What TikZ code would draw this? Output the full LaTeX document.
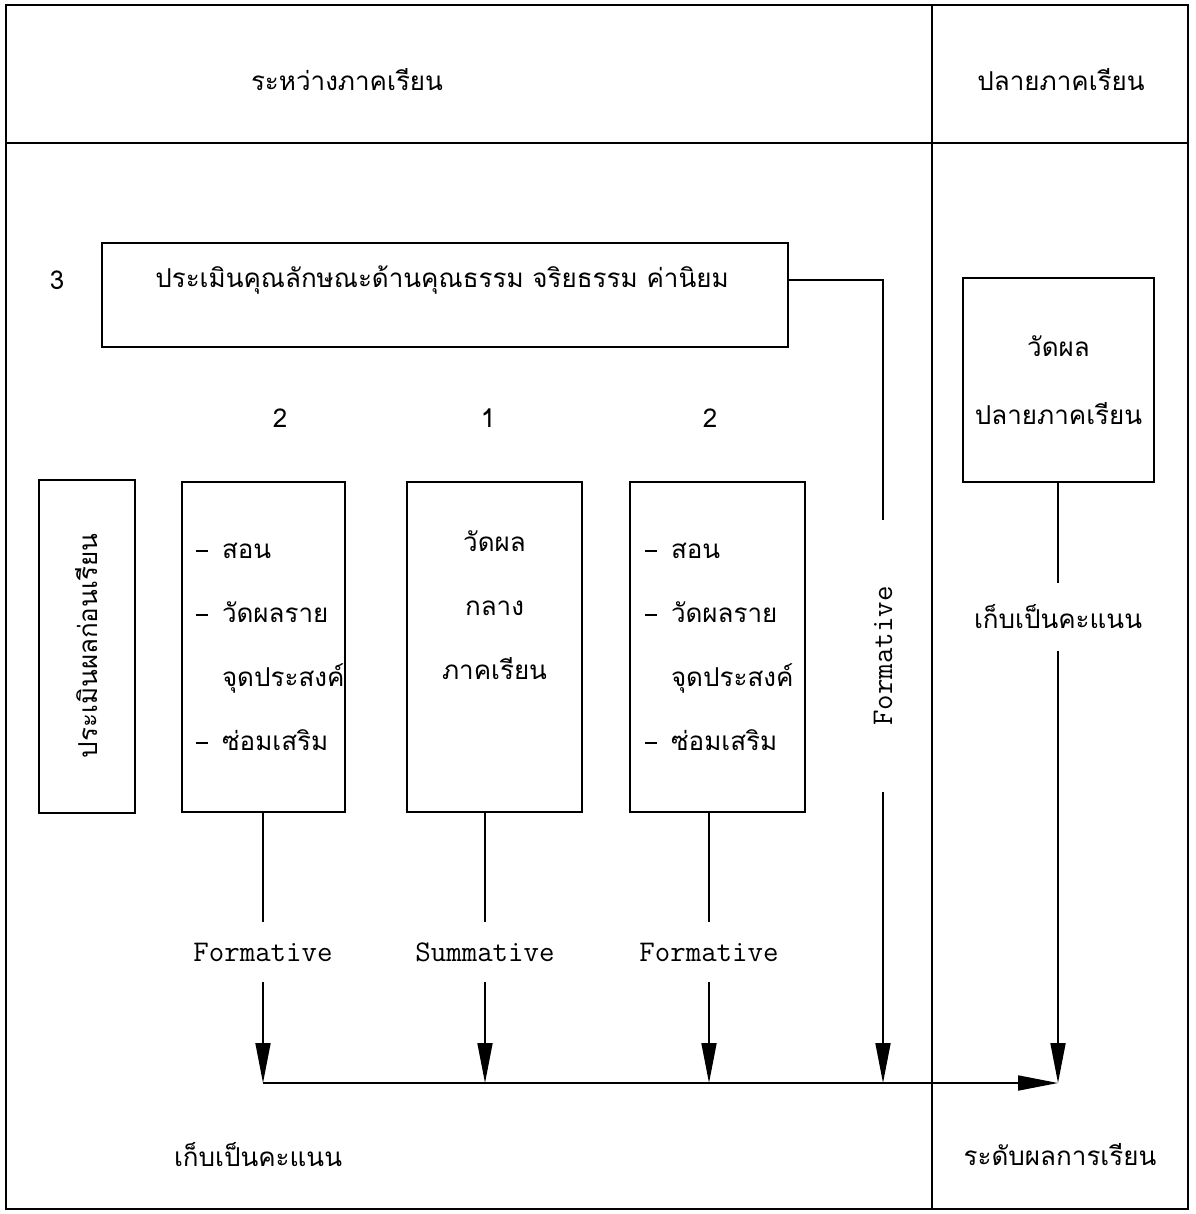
\documentclass[tikz,border=0pt]{standalone}
\usepackage{fontspec}
\newfontfamily\thaifont[Script=Thai]{Loma}
\usetikzlibrary{arrows.meta}

\tikzset{
  frame/.style={line width=1.3pt},
  box/.style={draw, line width=1pt, inner sep=0pt},
  thai/.style={font=\thaifont\fontsize{13}{16}\selectfont, inner sep=1pt},
  listbox/.style={box, align=left, font=\thaifont\fontsize{13}{32}\selectfont},
  midbox/.style={box, align=center, font=\thaifont\fontsize{13}{32}\selectfont},
  eng/.style={font=\ttfamily\fontsize{15}{18}\selectfont, inner sep=0pt, minimum height=30pt},
  link/.style={line width=0.9pt},
  flow/.style={link, -{Triangle[length=20pt,width=7.5pt]}},
}
\newcommand{\itemdash}{\makebox[13pt][l]{\rule[3.2pt]{6pt}{1.1pt}}}
\newcommand{\itemgap}{\makebox[13pt]{}}

\begin{document}
\begin{tikzpicture}[x=0.5pt,y=-0.5pt]
\useasboundingbox (0,0) rectangle (1195,1214);
% frame and columns
\draw[frame] (6,5) rectangle (1188,1209);
\draw[frame] (932,5) -- (932,1209);
\draw[frame] (6,143) -- (1188,143);
\node[thai] (hdrA) at (347,80) {ระหว่างภาคเรียน};
\node[thai] (hdrB) at (1061,80) {ปลายภาคเรียน};

% top box
\node[box, minimum width=343pt, minimum height=52pt] (T) at (445,295) {};
\node[thai] (Ttxt) at (442,280) {ประเมินคุณลักษณะด้านคุณธรรม จริยธรรม ค่านิยม};
\node[thai] (n3) at (57,280) {3};

% numbers
\node[thai] (n2a) at (280,418) {2};
\node[thai] (n1) at (488,418) {1};
\node[thai] (n2b) at (710,418) {2};

% boxes of the term
\node[box, minimum width=48pt, minimum height=166.5pt] (L) at (87,646) {};
\node[thai, rotate=90] (Ltxt) at (L.center) {ประเมินผลก่อนเรียน};
\node[listbox, text width=67.5pt, inner xsep=7pt, minimum height=165pt] (B2a) at (263.5,647)
  {\itemdash สอน\\ \itemdash วัดผลราย\\ \itemgap จุดประสงค์\\ \itemdash ซ่อมเสริม};
\node[midbox, minimum width=87.5pt, minimum height=165pt] (B1) at (494.5,647)
  {วัดผล\\ กลาง\\ ภาคเรียน\\ \strut};
\node[listbox, text width=72.5pt, inner xsep=7.5pt, minimum height=165pt] (B2b) at (717.5,647)
  {\itemdash สอน\\ \itemdash วัดผลราย\\ \itemgap จุดประสงค์\\ \itemdash ซ่อมเสริม};

% end of term
\node[box, align=center, font=\thaifont\fontsize{13}{34}\selectfont,
      minimum width=95.5pt, minimum height=102pt] (R) at (1058.5,380)
  {วัดผล\\ ปลายภาคเรียน};
\node[thai, minimum height=34pt] (K) at (1058,617) {เก็บเป็นคะแนน};

% labels on the lines
\node[eng] (F1) at (263,952) {Formative};
\node[eng] (S1) at (485,952) {Summative};
\node[eng] (F2) at (709,952) {Formative};
\node[eng, rotate=90, minimum width=136pt] (F3) at (883,656) {Formative};

\coordinate (j1) at (263,1083);
\coordinate (j2) at (485,1083);
\coordinate (j3) at (709,1083);
\coordinate (j4) at (883,1083);
\coordinate (j5) at (1058,1083);

% connectors
\draw[link] (B2a.south -| F1) -- (F1.north);
\draw[flow] (F1.south) -- (j1);
\draw[link] (B1.south -| S1) -- (S1.north);
\draw[flow] (S1.south) -- (j2);
\draw[link] (B2b.south -| F2) -- (F2.north);
\draw[flow] (F2.south) -- (j3);
\draw[link] (T.east |- Ttxt) -| (F3.east);
\draw[flow] (F3.west) -- (j4);
\draw[link] (R.south -| K) -- (K.north);
\draw[flow] (K.south) -- (j5);
\draw[flow] (j1) -- (j5);

% bottom row
\node[thai] (scoreA) at (258,1155) {เก็บเป็นคะแนน};
\node[thai] (grade) at (1060,1155) {ระดับผลการเรียน};
\end{tikzpicture}
\end{document}
